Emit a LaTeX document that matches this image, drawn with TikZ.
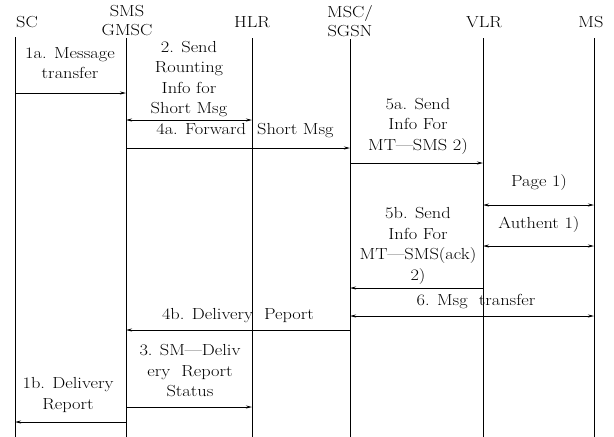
\documentclass[tikz,border=0pt]{standalone}
\usepackage{fontspec}
\newfontfamily\wfont[FakeStretch=1.15]{Latin Modern Roman}
\usetikzlibrary{arrows.meta}
\begin{document}
\begin{tikzpicture}[x=1pt,y=-1pt,
  hd/.style={font=\wfont\fontsize{16}{19}\selectfont, align=center, inner sep=0pt},
  lb/.style={font=\wfont\fontsize{16}{20.5}\selectfont, align=center, inner sep=0pt},
  life/.style={line width=1pt},
  msg/.style={line width=0.8pt, -{Stealth[length=6pt,width=3pt]}},
  bmsg/.style={line width=0.8pt, {Stealth[length=6pt,width=3pt]}-{Stealth[length=6pt,width=3pt]}}]
\useasboundingbox (0,0) rectangle (614,437);
% headers
\node[hd] (hsc) at (27,22) {SC};
\node[hd] (hgm) at (127,21) {SMS\\GMSC};
\node[hd] (hhlr) at (252,22) {HLR};
\node[hd] (hmsc) at (350,21) {MSC/\\SGSN};
\node[hd] (hvlr) at (484,22) {VLR};
\node[hd] (hms) at (591,22) {MS};
% lifeline ends
\coordinate (sct) at (15,37);  \coordinate (scb) at (15,437);
\coordinate (gmt) at (126,38); \coordinate (gmb) at (126,437);
\coordinate (hlt) at (252,38); \coordinate (hlb) at (252,437);
\coordinate (mst) at (350,39); \coordinate (msb) at (350,437);
\coordinate (vlt) at (483,38); \coordinate (vlb) at (483,437);
\coordinate (mot) at (594,38); \coordinate (mob) at (594,437);
\draw[life] (sct) -- (scb);
\draw[life] (gmt) -- (gmb);
\draw[life] (hlt) -- (hlb);
\draw[life] (mst) -- (msb);
\draw[life] (vlt) -- (vlb);
\draw[life] (mot) -- (mob);
% message anchor points
\coordinate (a1s) at (15,93);  \coordinate (a1e) at (126,93);
\coordinate (a2s) at (126,120); \coordinate (a2e) at (252,120);
\coordinate (a4s) at (126,148); \coordinate (a4e) at (350,148);
\coordinate (a5s) at (350,163); \coordinate (a5e) at (483,163);
\coordinate (pgs) at (483,205); \coordinate (pge) at (594,205);
\coordinate (aus) at (483,246); \coordinate (aue) at (594,246);
\coordinate (b5s) at (483,288); \coordinate (b5e) at (350,288);
\coordinate (m6s) at (350,316); \coordinate (m6e) at (594,316);
\coordinate (b4s) at (350,330); \coordinate (b4e) at (126,330);
\coordinate (m3s) at (126,407); \coordinate (m3e) at (252,407);
\coordinate (b1s) at (126,422); \coordinate (b1e) at (15,422);
\draw[msg] (a1s) -- (a1e);
\draw[bmsg] (a2s) -- (a2e);
\draw[msg] (a4s) -- (a4e);
\draw[msg] (a5s) -- (a5e);
\draw[bmsg] (pgs) -- (pge);
\draw[bmsg] (aus) -- (aue);
\draw[msg] (b5s) -- (b5e);
\draw[bmsg] (m6s) -- (m6e);
\draw[msg] (b4s) -- (b4e);
\draw[msg] (m3s) -- (m3e);
\draw[msg] (b1s) -- (b1e);
% labels
\node[lb] (l1a) at (70,63) {1a. Message\\transfer};
\node[lb] (l2) at (189,79) {2. Send\\Rounting\\Info for\\Short Msg};
\node[lb] (l4a) at (245,131) {4a. Forward\ \ Short Msg};
\node[lb] (l5a) at (418,126) {5a. Send\\Info For\\MT—SMS 2)};
\node[lb] (lpg) at (539,183) {Page 1)};
\node[lb] (lau) at (539,225) {Authent 1)};
\node[lb] (l5b) at (418,246) {5b. Send\\Info For\\MT—SMS(ack)\\2)};
\node[lb] (l6) at (476,302) {6. Msg\ \ transfer};
\node[lb] (l4b) at (238,316) {4b. Delivery\ \ Peport};
\node[lb] (l3) at (190,371) {3. SM—Deliv\\ery\ \ Report\\Status};
\node[lb] (l1b) at (68,395) {1b. Delivery\\Report};
\end{tikzpicture}
\end{document}
